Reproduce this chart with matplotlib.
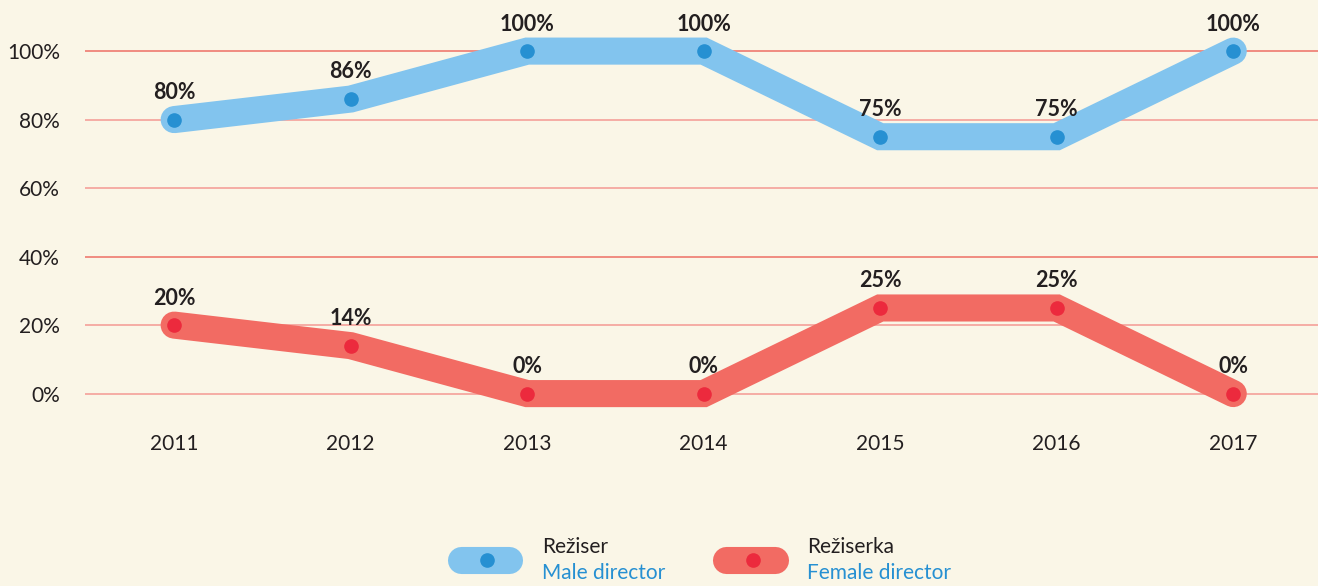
import matplotlib
matplotlib.use("Agg")
import matplotlib.pyplot as plt
from matplotlib.lines import Line2D

years = ["2011", "2012", "2013", "2014", "2015", "2016", "2017"]
male = [80, 86, 100, 100, 75, 75, 100]
female = [20, 14, 0, 0, 25, 25, 0]
yticks = [0, 20, 40, 60, 80, 100]

bg = "#FAF6E7"
blue_line = "#82C4EE"
blue_dot = "#2690D2"
red_line = "#F26B63"
red_dot = "#EC2A3D"
grid_col = "#F4A09A"
txt = "#231F20"

plt.rcParams["font.family"] = ["Lato", "DejaVu Sans"]

fig = plt.figure(figsize=(13.18, 5.86), dpi=100, facecolor=bg)
W, H = 1318, 586
ax = fig.add_axes([85 / W, 1 - 421 / H, 1 - 85 / W, (421 - 10) / H])
ax.set_facecolor(bg)

x = list(range(len(years)))

for v in yticks:
    c = "#EE7A70" if v in (40, 100) else grid_col
    ax.axhline(v, color=c, lw=1.2, zorder=1)

for vals, lc, dc in [(male, blue_line, blue_dot), (female, red_line, red_dot)]:
    ax.plot(x, vals, color=lc, lw=19.5, solid_capstyle="round",
            solid_joinstyle="miter", zorder=2)
    ax.plot(x, vals, "o", color=dc, ms=9.5, zorder=3)
    for xi, v in zip(x, vals):
        ax.annotate(f"{v}%", (xi, v), xytext=(0, 19.5), textcoords="offset points",
                    ha="center", va="center", fontsize=15.5, fontweight="bold",
                    color=txt)

ax.set_xlim(-0.505, 6.48)
ax.set_ylim(-8, 112)
ax.set_yticks(yticks)
ax.set_yticklabels([f"{v}%" for v in yticks])
ax.set_xticks(x)
ax.set_xticklabels(years)
ax.tick_params(length=0, labelsize=15, colors=txt)
ax.tick_params(axis="y", pad=18)
ax.tick_params(axis="x", pad=9)
for s in ax.spines.values():
    s.set_visible(False)

# legend
def pill(x0, x1, yc, lc, dc, xd):
    fig.add_artist(Line2D([(x0 + 13) / W, (x1 - 13) / W], [1 - yc / H] * 2,
                          transform=fig.transFigure, color=lc, lw=19.5,
                          solid_capstyle="round"))
    fig.add_artist(Line2D([xd / W], [1 - yc / H], transform=fig.transFigure,
                          marker="o", color=dc, ms=9.5, lw=0))

pill(448, 522, 560, blue_line, blue_dot, 487)
pill(713, 788, 560, red_line, red_dot, 753)
fig.text(542 / W, 1 - 547 / H, "Režiser", fontsize=15, color=txt, va="center")
fig.text(542 / W, 1 - 573 / H, "Male director", fontsize=15, color=blue_dot, va="center")
fig.text(807 / W, 1 - 547 / H, "Režiserka", fontsize=15, color=txt, va="center")
fig.text(807 / W, 1 - 573 / H, "Female director", fontsize=15, color=blue_dot, va="center")

fig.savefig("out.png", dpi=100, facecolor=bg)
